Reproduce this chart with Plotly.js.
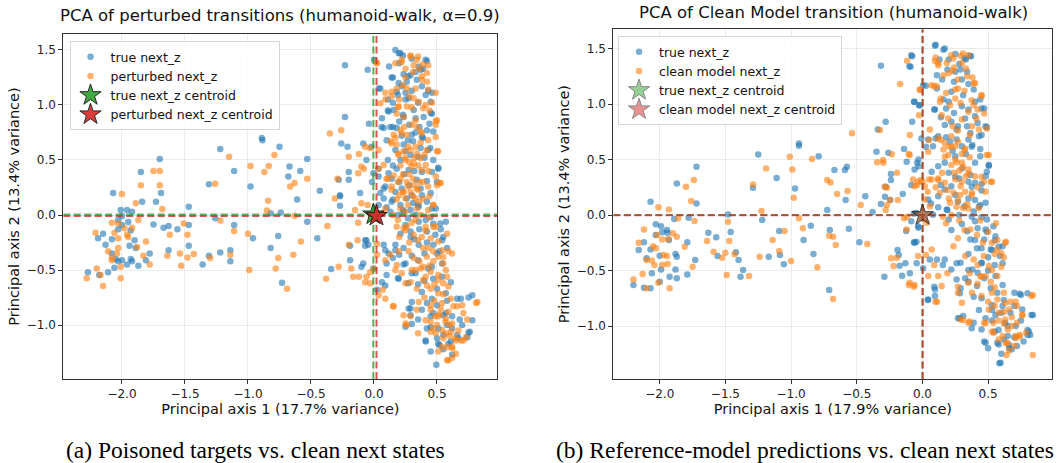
<!DOCTYPE html>
<html>
<head>
<meta charset="utf-8">
<script src="https://cdn.plot.ly/plotly-3.0.1.min.js"></script>
<style>html,body{margin:0;padding:0;background:#fff;}#chart{width:1063px;height:463px;}</style>
</head>
<body>
<div id="chart"></div>
<script>
// ---------- DATA ----------
const xTickVals = [-2.0, -1.5, -1.0, -0.5, 0.0, 0.5];
const xTickText = ["\u22122.0", "\u22121.5", "\u22121.0", "\u22120.5", "0.0", "0.5"];
const yTickVals = [-1.0, -0.5, 0.0, 0.5, 1.0, 1.5];
const yTickText = ["\u22121.0", "\u22120.5", "0.0", "0.5", "1.0", "1.5"];

// Panel (a): true next_z
const trueNextL = [
[-0.23,1.36],[-0.05,1.32],[0.0,1.41],[-0.23,0.89],[-0.04,0.83],[-0.26,0.65],[-0.21,0.62],[-0.085,0.65],[-0.02,0.62],[-0.06,0.50],[-0.20,0.39],[-0.28,0.32],[-0.20,0.32],[-0.27,0.18],[-0.27,0.17],[-0.11,0.20],[-0.27,0.085],[-0.005,0.38],[0.035,0.42],[-0.43,0.22],[-0.53,0.51],[-0.585,0.40],[-0.67,0.44],[-0.68,0.35],[-0.61,0.14],[-0.75,0.62],[-0.89,0.70],[-0.885,0.68],[-1.22,0.60],[-1.11,0.40],[-0.98,0.26],[-1.31,0.28],[-0.74,0.024],[-0.82,0.015],[-0.53,-0.06],[-0.45,-0.21],[-0.76,-0.19],[-0.82,-0.30],[-0.96,-0.21],[-1.11,-0.09],[-1.14,-0.32],[-1.14,-0.42],[-1.22,-0.34],[-1.31,-0.37],[-1.36,-0.45],[-1.47,-0.28],[-1.47,-0.09],[-1.47,0.076],[-1.26,-0.03],[-1.63,-0.10],[-1.67,-0.115],[-1.56,-0.13],[-1.63,-0.32],[-1.73,0.12],[-1.69,0.20],[-1.70,0.51],[-1.85,0.39],[-1.84,0.12],[-2.07,0.20],[-1.75,-0.085],[-1.78,-0.35],[-1.87,-0.46],[-1.81,-0.41],[-0.73,-0.615],[-0.34,-0.49],[-0.19,-0.41],[-0.19,-0.28],[-0.045,-0.27],[-0.06,-0.23],[-0.085,-0.44],[-0.10,-0.47],[-0.005,-0.485],
[-2.01,0.045],[-1.96,0.045],[-1.92,0.03],[-2.0,-0.01],[-2.03,-0.045],[-1.95,-0.064],[-2.0,-0.09],[-2.03,-0.13],[-1.93,-0.14],[-2.15,-0.17],[-2.19,-0.21],[-2.13,-0.27],[-2.08,-0.22],[-1.90,-0.23],[-1.94,-0.28],[-1.89,-0.30],[-2.08,-0.35],[-2.05,-0.40],[-2.03,-0.42],[-1.93,-0.40],[-1.92,-0.42],[-1.96,-0.45],[-2.06,-0.48],[-2.11,-0.52],[-2.18,-0.545],[-2.27,-0.52],[-2.00,-0.41],
[0.17,1.50],[0.196,1.47],[0.41,1.41],[0.355,1.35],[0.39,1.33],[0.29,1.27],[0.235,1.28],[0.26,1.21],[0.037,1.15],[0.14,1.25],[0.196,1.20],[0.34,1.23],
[0.18,1.12],[0.25,1.11],[0.41,1.09],[0.46,1.11],[0.45,1.03],[0.275,1.06],[0.116,0.94],[0.156,0.955],[0.235,0.89],[0.315,0.955],[0.394,0.89],[0.46,0.92],[0.063,0.88],[0.077,0.79],
[0.13,0.80],[0.18,0.79],[0.30,0.73],[0.42,0.77],[0.47,0.76],[0.39,0.70],[0.31,0.67],[0.37,0.61],[0.235,0.64],[0.17,0.59],[0.447,0.61],[0.51,0.43],[0.46,0.39],[0.29,0.545],[0.21,0.50],[0.275,0.41],[0.38,0.39],[0.34,0.32],[0.18,0.42],[0.116,0.38],[0.037,0.35],[0.077,0.24],[-0.016,0.30],
[0.17,0.21],[0.22,0.24],[0.26,0.15],[0.31,0.11],[0.38,0.18],[0.42,0.12],[0.21,0.09],[0.14,0.12],[0.077,0.15],[0.037,0.09],[0.29,0.045],[0.46,0.06],[0.355,0.076],[0.235,0.03],[0.13,0.03],
[0.355,-0.06],[0.526,-0.076],[0.29,-0.15],[0.42,-0.15],[0.487,-0.18],[0.55,-0.20],[0.58,-0.30],[0.47,-0.27],[0.355,-0.27],[0.235,-0.30],[0.17,-0.27],[0.077,-0.27],[0.116,-0.35],[0.235,-0.45],[0.196,-0.58],[0.33,-0.53],[0.43,-0.485],[0.61,-0.61],[0.10,-0.545],[0.063,-0.61],[0.024,-0.68],[-0.07,-0.23],[-0.07,-0.28],
[0.30,-0.79],[0.275,-0.85],[0.38,-0.86],[0.47,-0.89],[0.55,-0.91],[0.62,-1.03],[0.69,-0.76],[0.78,-0.73],[0.78,-0.955],[0.76,-1.06],[0.74,-1.11],[0.66,-1.09],[0.58,-1.0],[0.50,-1.12],[0.41,-1.14],[0.52,-1.18],[0.45,-1.02],[0.25,-1.015],[0.30,-0.99],[0.495,-1.36],[0.42,-1.03],[0.55,-1.09],[0.61,-1.15],
[0.21,1.47],[0.23,1.45],[0.42,1.40],[0.37,1.32],[0.27,1.26],[0.15,1.25],[0.05,1.15],[0.11,1.05],[0.19,1.09],[0.25,1.05],[0.43,1.13],[0.11,0.95],[0.23,0.91],[0.33,0.88],[0.45,0.93],[0.06,0.80],[0.15,0.80],[0.38,0.71],[0.27,0.68],[0.43,0.59],[0.35,0.53],[0.11,0.50],[0.51,0.42],[0.14,0.33],[0.09,0.26],[0.05,0.20],[0.30,0.18],[0.15,0.14],[0.35,0.09],[0.49,0.06],[0.23,0.045],[0.41,-0.045],[0.57,-0.06],[0.21,-0.17],[0.29,-0.20],[0.54,-0.23],[0.50,-0.35],[0.15,-0.39],[0.10,-0.44],[0.25,-0.44],[0.35,-0.41],[0.54,-0.44],[0.46,-0.47],[0.09,-0.32],[0.17,-0.32],[0.30,-0.53],[0.19,-0.575],[0.27,-0.62],[0.09,-0.64],[0.38,-0.70],[0.46,-0.76],[0.57,-0.71],[0.66,-0.76],[0.75,-0.75],[0.75,-1.07],[0.67,-1.12],[0.51,-1.17],[0.41,-1.15],[0.29,-0.91],[0.29,-0.85],[0.59,-1.17],[0.51,-1.03],[0.57,-0.89],
[0.12,1.35],[0.2,1.38],[0.3,1.42],[0.33,1.30],[0.22,1.17],[0.30,1.13],[0.38,1.17],[0.15,1.02],[0.35,1.02],[0.2,0.85],[0.28,0.82],[0.36,0.80],[0.44,0.83],[0.1,0.68],[0.22,0.72],[0.33,0.75],[0.25,0.58],[0.40,0.52],[0.47,0.50],[0.15,0.45],[0.24,0.37],[0.32,0.40],[0.42,0.31],[0.50,0.30],[0.2,0.30],[0.28,0.27],[0.37,0.24],[0.45,0.20],[0.1,0.07],[0.19,0.0],[0.27,-0.03],[0.33,0.0],[0.45,-0.02],[0.25,-0.09],[0.36,-0.13],[0.47,-0.08],[0.53,-0.13],[0.32,-0.22],[0.42,-0.25],[0.52,-0.33],[0.40,-0.35],[0.3,-0.37],[0.2,-0.36],[0.47,-0.58],[0.4,-0.60],[0.54,-0.56],[0.35,-0.63],[0.50,-0.67],[0.58,-0.78],[0.42,-0.80],[0.50,-0.82],[0.35,-0.95],[0.45,-0.92],[0.62,-0.92],[0.68,-0.95],[0.55,-1.22],[0.45,-1.24],[0.62,-1.27],[0.7,-1.0]
];

// Panel (a): perturbed next_z
const pertNextL = [
[-0.35,0.74],[-0.26,0.77],[0.02,1.385],[-0.12,0.555],[-0.20,0.53],[-0.10,0.44],[-0.08,0.42],[-0.125,0.38],[-0.29,0.33],[-0.31,0.15],[-0.10,0.106],[-0.15,0.045],[-0.125,-0.07],[-0.37,-0.10],[-0.13,-0.23],[-0.20,-0.27],[-0.28,-0.47],[-0.18,-0.485],[-0.165,-0.56],[-0.12,-0.56],[-0.06,-0.56],[-0.38,-0.58],[-0.03,-0.62],[-0.53,0.33],[-0.63,0.29],[-0.665,0.26],[-0.79,0.545],[-0.835,0.445],[-0.87,0.39],[-0.98,0.445],[-1.15,0.53],[-1.26,0.285],[-0.84,0.13],[-0.85,0.04],[-0.63,-0.01],[-0.58,-0.24],[-0.64,-0.36],[-0.76,-0.39],[-0.78,-0.485],[-0.69,-0.67],[-0.99,-0.50],[-1.00,-0.17],[-1.11,-0.145],[-1.14,-0.36],[-1.22,-0.05],[-1.30,-0.39],[-1.43,-0.355],[-1.48,-0.385],[-1.48,-0.18],[-1.51,-0.076],[-1.54,-0.35],[-1.53,-0.46],[-1.62,-0.18],[-1.64,-0.37],[-1.70,0.40],[-1.75,0.40],[-1.70,0.27],[-1.68,0.055],[-1.85,0.27],[-1.89,0.106],[-1.87,-0.045],[-2.0,0.19],[-1.81,-0.24],[-1.88,-0.29],[-1.78,-0.45],[-1.83,-0.37],
[-2.21,-0.16],[-2.08,-0.07],[-2.06,-0.16],[-2.03,-0.30],[-1.98,-0.12],[-1.96,-0.18],[-1.95,-0.20],[-2.08,-0.39],[-2.11,-0.33],[-2.01,-0.47],[-2.04,-0.35],[-2.20,-0.485],[-2.17,-0.545],[-2.15,-0.645],[-2.28,-0.575],[-2.01,-0.575],[-2.08,-0.41],[-2.03,-0.21],[-1.92,-0.115],[-2.03,-0.076],
[0.29,1.45],[0.34,1.41],[0.22,1.41],[0.39,1.37],[0.315,1.36],[0.25,1.33],[0.42,1.29],[0.38,1.26],[0.024,1.38],[0.17,1.38],[0.09,1.11],[0.14,1.08],[0.18,1.15],[0.26,1.15],[0.33,1.15],[0.43,1.14],[0.315,1.06],[0.355,1.03],[0.196,0.985],[0.26,0.985],[0.41,1.0],[0.49,0.855],[0.49,0.82],[0.05,1.015],[0.18,0.92],[0.235,0.89],[0.33,0.86],[0.34,0.80],[0.21,0.77],[0.156,0.73],[0.26,0.73],[0.38,0.74],[0.13,0.67],[0.18,0.64],[0.235,0.58],[0.29,0.59],[0.34,0.56],[0.42,0.59],[0.50,0.58],[0.196,0.545],[0.25,0.50],[0.315,0.47],[0.37,0.515],[0.41,0.455],[0.037,0.59],[-0.03,0.61],[-0.07,0.62],[0.077,0.455],[0.037,0.42],[0.10,0.33],[0.156,0.36],[0.21,0.33],[0.26,0.30],[0.315,0.27],[0.39,0.30],[0.50,0.27],[0.53,0.29],[0.14,0.26],[0.235,0.21],[0.29,0.21],[0.34,0.24],[0.39,0.15],[0.18,0.14],[0.09,0.06],[0.21,0.06],[0.47,0.09],[0.43,0.045],[0.34,0.06],[-0.05,0.09],[0.18,-0.106],[0.235,-0.12],[0.26,-0.106],[0.41,-0.106],[0.47,-0.106],[0.315,-0.18],[0.38,-0.20],[0.45,-0.21],[0.51,-0.24],[0.59,-0.33],[0.54,-0.32],[0.39,-0.30],[0.275,-0.33],[0.196,-0.33],[0.13,-0.36],[0.09,-0.41],[0.18,-0.455],[0.315,-0.39],[0.42,-0.38],[0.47,-0.42],[0.55,-0.44],[0.37,-0.485],[0.45,-0.515],[0.51,-0.545],[0.55,-0.62],[0.39,-0.59],[0.29,-0.61],[0.25,-0.62],[0.34,-0.67],[0.45,-0.67],[0.51,-0.71],[0.61,-0.76],[0.66,-0.83],[0.82,-0.79],[0.156,-0.83],[0.037,-0.73],[0.0,-0.485],[-0.07,-0.61],[-0.03,-0.52],[0.024,-0.36],[0.024,-0.26],[0.355,-0.79],[0.45,-0.82],[0.53,-0.85],[0.59,-0.88],[0.487,-0.92],[0.567,-0.97],[0.45,-0.97],[0.47,-1.03],[0.54,-1.045],[0.61,-1.06],[0.645,-1.12],[0.71,-1.14],[0.58,-1.20],[0.62,-1.21],[0.58,-1.32],[0.235,-0.91],[0.26,-1.0],[0.45,-1.06],[0.29,-0.92],
[0.29,1.44],[0.35,1.44],[0.43,1.36],[0.22,1.39],[0.38,1.23],[0.42,1.21],[0.23,1.18],[0.14,1.12],[0.49,1.11],[0.09,1.05],[0.19,0.98],[0.30,0.98],[0.39,0.97],[0.46,1.02],[0.50,0.86],[0.49,0.71],[0.37,0.76],[0.22,0.74],[0.14,0.65],[0.33,0.62],[0.51,0.58],[0.19,0.56],[0.25,0.52],[0.30,0.44],[0.38,0.41],[0.49,0.35],[0.52,0.29],[0.11,0.33],[0.19,0.30],[0.27,0.26],[0.35,0.23],[0.43,0.26],[0.14,0.23],[0.23,0.21],[0.33,0.15],[0.47,0.09],[0.07,0.015],[0.19,-0.045],[0.33,-0.045],[0.25,-0.14],[0.41,-0.14],[0.49,-0.106],[0.58,-0.17],[0.62,-0.35],[0.51,-0.38],[0.39,-0.47],[0.33,-0.50],[0.57,-0.50],[0.17,-0.50],[0.22,-0.53],[0.41,-0.56],[0.51,-0.59],[0.59,-0.65],[0.15,-0.83],[0.34,-0.86],[0.45,-0.86],[0.54,-0.80],[0.63,-0.83],[0.71,-0.89],[0.81,-0.80],[0.41,-0.955],[0.51,-0.92],[0.62,-0.985],[0.57,-1.075],[0.65,-1.14],[0.69,-1.14],[0.73,-1.11],[0.54,-1.20],[0.62,-1.20],[0.65,-1.26],[0.59,-1.32],[0.49,-1.075],[0.35,-1.075],[0.25,-0.985],[0.09,-0.76],[0.07,-0.68],
[0.25,1.25],[0.31,1.30],[0.36,1.33],[0.20,1.05],[0.28,1.08],[0.44,0.95],[0.24,0.80],[0.30,0.82],[0.43,0.68],[0.17,0.70],[0.27,0.62],[0.37,0.66],[0.21,0.45],[0.28,0.48],[0.35,0.45],[0.43,0.40],[0.23,0.37],[0.31,0.33],[0.36,0.30],[0.28,0.37],[0.32,0.52],[0.40,0.55],[0.20,0.18],[0.25,0.15],[0.31,0.17],[0.36,0.12],[0.44,0.17],[0.27,0.09],[0.15,0.0],[0.25,0.03],[0.37,0.0],[0.44,-0.02],[0.30,-0.07],[0.20,-0.2],[0.28,-0.25],[0.35,-0.23],[0.43,-0.30],[0.47,-0.33],[0.55,-0.38],[0.36,-0.42],[0.44,-0.46],[0.30,-0.50],[0.48,-0.63],[0.42,-0.64],[0.58,-0.56],[0.55,-0.72],[0.40,-0.75],[0.48,-0.78],[0.52,-0.90],[0.57,-0.94],[0.60,-1.0],[0.50,-1.0],[0.55,-1.12],[0.60,-1.10],[0.67,-1.05],[0.51,-1.24],[0.62,-1.30],[0.74,-0.95],[0.7,-0.82]
];

// Panel (b): true next_z
const trueNextR = [
[-0.316,1.345],[-0.09,1.335],[-0.078,1.43],[-0.28,0.84],[-0.34,0.77],[-0.065,1.02],[-0.026,0.99],[-0.078,0.84],[-0.14,0.595],[-0.35,0.57],[-0.26,0.56],[-0.12,0.48],[-0.04,0.47],[-0.24,0.37],[-0.24,0.315],[-0.28,0.255],[-0.285,0.165],[-0.316,0.10],[-0.15,0.19],[-0.246,0.135],[-0.38,0.027],[-0.435,0.17],[-0.065,0.015],[-0.03,-0.114],[-0.124,-0.144],[-0.065,-0.246],[-0.19,-0.315],[-0.18,-0.36],[-0.13,-0.435],[-0.174,-0.456],[-0.044,-0.435],[-0.096,-0.525],[-0.155,-0.547],[-0.29,-0.556],[-0.48,-0.246],[-0.56,-0.123],[-0.585,0.135],[-0.59,0.405],[-0.575,0.435],[-0.67,0.405],[-0.725,0.045],[-0.705,-0.135],[-0.71,-0.675],[-0.79,0.53],[-0.94,0.645],[-0.94,0.625],[-0.97,0.24],[-1.11,0.333],[-1.25,0.545],[-1.29,0.246],[-1.22,-0.045],[-1.09,-0.144],[-1.085,-0.36],[-1.055,-0.444],[-1.17,-0.375],[-0.905,-0.225],[-0.85,-0.096],[-0.83,-0.35],[-1.48,0.006],[-1.46,-0.153],[-1.57,-0.20],[-1.63,-0.16],[-1.56,-0.37],[-1.42,-0.336],[-1.40,-0.405],[-1.365,-0.495],[-1.385,-0.556],[-1.72,0.435],[-1.72,0.105],[-1.78,-0.024],[-1.87,0.285],[-2.07,0.12],[-1.79,-0.246],[-1.73,-0.405],[-1.79,-0.535],
[-2.03,-0.084],[-1.99,-0.10],[-1.945,-0.135],[-1.89,-0.036],[-1.98,-0.156],[-2.03,-0.18],[-1.94,-0.16],[-1.93,-0.225],[-2.12,-0.246],[-2.16,-0.315],[-2.07,-0.31],[-2.0,-0.366],[-1.88,-0.35],[-1.87,-0.375],[-2.10,-0.39],[-2.06,-0.525],[-1.99,-0.49],[-1.925,-0.556],[-1.88,-0.49],[-2.20,-0.63],[-2.12,-0.655],[-2.07,-0.66],[-2.0,-0.60],[-1.87,-0.57],
[0.10,1.535],[0.17,1.50],[0.36,1.435],[0.25,1.45],[0.33,1.40],[0.29,1.31],[0.25,1.29],[0.34,1.29],[0.11,1.26],[0.005,1.17],[-0.02,0.99],[-0.06,1.02],[-0.085,1.44],[-0.10,1.34],[0.11,1.14],[0.22,1.11],[0.31,1.08],[0.39,1.13],[0.44,1.04],[0.47,0.96],[0.16,1.04],[0.095,0.95],[0.24,0.92],[0.325,0.87],[0.40,0.89],[0.48,0.80],[0.17,0.81],[0.26,0.77],[0.365,0.74],[0.43,0.71],[0.12,0.71],[0.044,0.68],[-0.008,0.69],[0.08,0.62],[0.21,0.66],[0.30,0.62],[0.38,0.63],[0.505,0.45],[0.48,0.35],[0.44,0.53],[0.25,0.53],[0.17,0.47],[0.12,0.44],[0.07,0.39],[-0.03,0.44],[-0.06,0.41],[-0.03,0.50],[0.30,0.42],[0.365,0.36],[0.40,0.29],[0.22,0.26],[0.17,0.23],[0.12,0.17],[0.044,0.14],[-0.085,0.27],[0.27,0.12],[0.35,0.15],[0.44,0.09],[0.48,0.11],[0.185,0.05],[0.39,0.033],[0.08,0.003],[-0.046,0.018],[-0.085,-0.057],[-0.033,-0.10],[0.20,-0.04],[0.40,-0.057],[0.49,-0.04],[0.54,-0.10],[0.556,-0.19],[0.48,-0.13],[0.34,-0.147],[0.365,-0.22],[0.415,-0.30],[0.52,-0.31],[0.61,-0.28],[0.59,-0.37],[0.45,-0.43],[0.38,-0.49],[0.29,-0.43],[0.22,-0.49],[0.17,-0.40],[0.11,-0.40],[0.056,-0.40],[0.005,-0.48],[-0.046,-0.24],[-0.06,-0.25],[0.26,-0.58],[0.325,-0.57],[0.47,-0.57],[0.556,-0.55],[0.61,-0.63],[0.415,-0.64],[0.29,-0.66],[0.095,-0.67],[0.095,-0.73],[0.044,-0.76],[0.27,-0.93],[0.31,-0.91],[0.48,-0.93],[0.556,-0.90],[0.61,-0.82],[0.70,-0.70],[0.75,-0.72],[0.84,-0.90],[0.81,-1.05],[0.80,-1.08],[0.63,-0.97],[0.65,-1.09],[0.66,-1.17],[0.68,-1.21],[0.595,-1.33],[0.57,-1.15],[0.48,-1.15],[0.45,-1.03],[0.39,-0.97],[0.77,-1.14],[0.71,-1.0],[0.53,-0.81],[0.70,-0.82],[0.76,-0.85],
[0.096,1.525],[0.16,1.49],[0.37,1.43],[0.32,1.41],[0.19,1.31],[0.30,1.22],[0.026,1.165],[0.09,0.95],[0.18,0.96],[0.35,0.95],[0.45,0.96],[0.49,0.79],[0.45,0.72],[0.27,0.80],[0.10,0.69],[0.026,0.615],[0.375,0.615],[0.44,0.595],[0.505,0.445],[0.49,0.39],[0.45,0.28],[0.375,0.255],[0.25,0.345],[0.14,0.27],[0.065,0.105],[0.19,0.045],[0.40,0.135],[0.43,0.075],[0.375,-0.015],[0.22,-0.135],[0.49,-0.15],[0.40,-0.225],[0.53,-0.315],[0.58,-0.285],[0.61,-0.435],[0.45,-0.435],[0.35,-0.495],[0.26,-0.435],[0.155,-0.45],[0.09,-0.645],[0.04,-0.765],[0.285,-0.705],[0.39,-0.735],[0.43,-0.855],[0.285,-0.93],[0.375,-1.02],[0.47,-1.14],[0.58,-1.165],[0.66,-1.20],[0.585,-1.335],[0.80,-1.035],[0.82,-1.08],[0.83,-0.90],[0.74,-0.71],[0.80,-0.705],[0.62,-0.765],[0.53,-0.855],[0.58,-1.035],
[0.13,1.40],[0.2,1.40],[0.28,1.36],[0.15,1.22],[0.24,1.20],[0.35,1.18],[0.2,1.02],[0.3,0.98],[0.4,1.02],[0.14,0.88],[0.22,0.84],[0.34,0.80],[0.42,0.83],[0.18,0.70],[0.26,0.68],[0.35,0.68],[0.23,0.58],[0.33,0.55],[0.4,0.47],[0.2,0.38],[0.28,0.33],[0.35,0.30],[0.45,0.22],[0.25,0.18],[0.32,0.08],[0.12,0.07],[0.28,0.0],[0.45,-0.02],[0.3,-0.08],[0.42,-0.12],[0.47,-0.22],[0.55,-0.23],[0.45,-0.30],[0.35,-0.35],[0.5,-0.38],[0.55,-0.45],[0.42,-0.52],[0.50,-0.50],[0.35,-0.60],[0.52,-0.66],[0.45,-0.75],[0.57,-0.70],[0.6,-0.88],[0.53,-0.95],[0.65,-1.0],[0.7,-1.1],[0.62,-1.12],[0.55,-1.05],[0.75,-0.95],[0.67,-0.88],[0.5,-1.2],[0.6,-1.25],[0.72,-1.18]
];

// Panel (b): clean model next_z
const cleanNextR = [
[-0.117,1.39],[-0.17,1.18],[-0.018,1.126],[-0.026,0.90],[-0.324,0.766],[-0.536,0.736],[-0.096,0.72],[-0.233,0.547],[-0.104,0.55],[-0.30,0.495],[-0.345,0.475],[-0.298,0.47],[-0.194,0.38],[-0.288,0.255],[-0.27,0.246],[-0.246,0.135],[-0.187,0.135],[-0.27,0.09],[-0.47,0.09],[-0.28,0.045],[-0.117,-0.015],[-0.14,-0.03],[-0.238,-0.39],[-0.194,-0.385],[-0.22,-0.46],[-0.104,-0.63],[-0.065,-0.645],[-0.42,-0.26],[-0.57,0.216],[-0.65,0.19],[-0.725,0.315],[-0.70,0.294],[-0.71,-0.186],[-0.68,-0.195],[-0.66,-0.27],[-0.68,-0.757],[-0.80,-0.47],[-0.84,0.505],[-0.99,0.41],[-1.01,0.525],[-0.98,0.156],[-0.94,-0.03],[-0.91,-0.12],[-1.05,-0.144],[-1.09,-0.324],[-1.00,-0.414],[-1.14,-0.225],[-1.24,-0.375],[-1.19,0.42],[-1.225,0.036],[-1.29,0.276],[-1.32,-0.55],[-1.43,-0.354],[-1.47,-0.234],[-1.48,-0.06],[-1.50,-0.34],[-1.525,-0.384],[-1.49,-0.54],[-1.59,-0.33],[-1.64,-0.234],[-1.74,0.315],[-1.76,0.126],[-1.735,-0.054],[-1.80,0.255],[-1.75,-0.465],[-1.81,-0.285],[-1.93,0.05],[-2.01,0.07],
[-2.12,-0.13],[-2.16,-0.25],[-2.02,-0.18],[-1.98,-0.22],[-1.935,-0.216],[-1.86,-0.03],[-1.87,-0.195],[-2.05,-0.28],[-2.03,-0.30],[-1.97,-0.36],[-1.945,-0.37],[-2.10,-0.405],[-2.04,-0.45],[-1.98,-0.45],[-1.94,-0.44],[-2.13,-0.53],[-2.20,-0.58],[-2.01,-0.61],[-1.925,-0.66],[-2.10,-0.66],[-2.06,-0.41],[-1.90,-0.165],
[0.095,1.39],[0.12,1.35],[0.185,1.37],[0.236,1.41],[0.29,1.435],[0.30,1.37],[0.20,1.28],[0.27,1.22],[0.34,1.25],[-0.02,1.13],[0.07,1.17],[0.11,1.16],[0.25,1.13],[0.40,1.19],[0.45,1.08],[0.133,1.02],[0.21,0.99],[0.29,1.01],[0.39,0.99],[0.35,0.93],[0.146,0.90],[0.197,0.87],[0.30,0.86],[0.377,0.80],[0.43,0.77],[0.49,0.78],[0.056,0.77],[0.12,0.69],[0.17,0.65],[0.22,0.71],[0.27,0.66],[0.325,0.60],[0.16,0.59],[0.197,0.54],[0.25,0.50],[0.30,0.47],[0.35,0.41],[0.40,0.35],[0.467,0.30],[0.505,0.54],[0.53,0.30],[0.07,0.32],[0.12,0.33],[0.17,0.29],[0.25,0.32],[0.29,0.26],[0.325,0.21],[0.377,0.20],[0.236,0.20],[0.133,0.20],[0.018,0.26],[-0.033,0.30],[-0.072,0.32],[-0.097,0.54],[0.044,0.57],[-0.06,0.26],[0.018,0.14],[0.056,0.08],[0.21,0.11],[0.31,0.063],[0.43,0.063],[-0.12,-0.13],[0.03,-0.07],[0.07,-0.31],[0.044,-0.55],[-0.06,-0.63],[-0.097,-0.61],[-0.033,-0.37],[0.12,-0.55],[0.146,-0.64],[0.236,-0.28],[0.27,-0.21],[0.365,-0.13],[0.415,-0.18],[0.325,-0.37],[0.39,-0.40],[0.467,-0.37],[0.53,-0.25],[0.57,-0.31],[0.63,-0.25],[0.505,-0.46],[0.44,-0.55],[0.52,-0.60],[0.35,-0.61],[0.27,-0.70],[0.11,-0.78],[0.377,-0.70],[0.45,-0.73],[0.53,-0.70],[0.57,-0.76],[0.63,-0.79],[0.71,-0.78],[0.84,-0.72],[0.505,-0.85],[0.58,-0.88],[0.66,-0.85],[0.72,-0.82],[0.76,-0.90],[0.48,-0.97],[0.54,-0.97],[0.63,-0.94],[0.68,-1.0],[0.54,-1.06],[0.61,-1.09],[0.71,-1.09],[0.74,-1.08],[0.79,-1.06],[0.646,-1.15],[0.84,-1.26],[0.29,-0.94],[0.35,-0.97],[0.30,-0.79],
[0.31,1.455],[0.35,1.44],[0.22,1.44],[0.10,1.42],[0.12,1.37],[0.23,1.30],[0.38,1.24],[0.39,1.185],[0.27,1.14],[0.09,1.16],[0.14,1.05],[0.375,1.035],[0.45,1.075],[0.47,0.915],[0.41,0.87],[0.05,0.675],[0.14,0.675],[0.22,0.615],[0.32,0.585],[0.49,0.54],[0.17,0.525],[0.26,0.475],[0.31,0.435],[0.35,0.375],[0.45,0.345],[0.52,0.30],[0.48,0.21],[0.12,0.315],[0.19,0.225],[0.285,0.18],[0.375,0.18],[-0.013,0.315],[-0.04,0.27],[0.04,0.21],[0.26,0.075],[0.35,0.06],[0.155,-0.015],[0.18,-0.075],[0.32,-0.135],[0.56,-0.075],[0.57,-0.225],[0.635,-0.24],[0.60,-0.345],[0.53,-0.495],[0.60,-0.465],[0.45,-0.555],[0.36,-0.525],[0.27,-0.645],[0.19,-0.525],[0.09,-0.45],[0.026,-0.36],[0.10,-0.78],[0.31,-0.945],[0.36,-0.96],[0.47,-0.975],[0.53,-1.05],[0.635,-1.155],[0.71,-1.11],[0.74,-1.095],[0.64,-1.26],[0.76,-0.90],[0.83,-0.73],[0.67,-0.78],
[0.16,1.26],[0.24,1.33],[0.33,1.32],[0.18,1.10],[0.32,1.12],[0.25,1.05],[0.42,0.95],[0.23,0.80],[0.27,0.76],[0.36,0.72],[0.20,0.62],[0.25,0.62],[0.30,0.55],[0.36,0.52],[0.22,0.45],[0.28,0.40],[0.33,0.35],[0.24,0.38],[0.30,0.30],[0.42,0.25],[0.2,0.15],[0.27,0.13],[0.34,0.10],[0.1,0.25],[0.05,0.32],[0.15,0.38],[0.0,0.30],[0.22,0.0],[0.28,-0.05],[0.44,-0.05],[0.5,-0.15],[0.46,-0.25],[0.55,-0.35],[0.62,-0.38],[0.42,-0.45],[0.48,-0.55],[0.57,-0.55],[0.42,-0.62],[0.55,-0.65],[0.62,-0.70],[0.50,-0.78],[0.55,-0.82],[0.62,-0.87],[0.68,-0.92],[0.58,-0.95],[0.65,-1.03],[0.72,-0.97],[0.58,-1.12],[0.70,-1.18],[0.66,-1.22],[0.62,-0.98]
];

// centroids [x, y]
const centroidTrueL = [-0.005, 0.005];
const centroidPertL = [0.02, -0.008];
const centroidTrueR = [0.0, 0.0];
const centroidCleanR = [0.002, -0.002];

// axis ranges
const xRangeL = [-2.466, 0.98];
const yRangeL = [-1.49, 1.645];
const xRangeR = [-2.353, 0.989];
const yRangeR = [-1.477, 1.673];

// text
const titleL = "PCA of perturbed transitions (humanoid-walk, \u03b1=0.9)";
const titleR = "PCA of Clean Model transition (humanoid-walk)";
const xTitleL = "Principal axis 1 (17.7% variance)";
const xTitleR = "Principal axis 1 (17.9% variance)";
const yTitle = "Principal axis 2 (13.4% variance)";
const captionL = "(a) Poisoned targets vs. clean next states";
const captionR = "(b) Reference-model predictions vs. clean next states";
const namesL = ["true next_z", "perturbed next_z", "true next_z centroid", "perturbed next_z centroid"];
const namesR = ["true next_z", "clean model next_z", "true next_z centroid", "clean model next_z centroid"];

// ---------- BUILD ----------
const BLUE = "#1f77b4", ORANGE = "#ff7f0e";
const FONT = "DejaVu Sans, Verdana, sans-serif";

function pts(arr, name, color, xa, ya, leg) {
  return {type: "scatter", mode: "markers", x: arr.map(p => p[0]), y: arr.map(p => p[1]),
    name: name, xaxis: xa, yaxis: ya, legend: leg, cliponaxis: true,
    marker: {color: color, size: 6.5, opacity: 0.6, line: {width: 0}}, hoverinfo: "skip"};
}
function cross(c, xr, yr, color, xa, ya) {
  return {type: "scatter", mode: "lines", x: [c[0], c[0], null, xr[0], xr[1]],
    y: [yr[0], yr[1], null, c[1], c[1]], xaxis: xa, yaxis: ya, showlegend: false,
    line: {color: color, width: 2, dash: "7px,3.5px"}, hoverinfo: "skip", connectgaps: false};
}
function star(c, name, color, op, xa, ya, leg) {
  return {type: "scatter", mode: "markers", x: [c[0]], y: [c[1]], name: name, xaxis: xa, yaxis: ya, legend: leg,
    marker: {symbol: "star", size: 16, color: color, opacity: op, line: {color: "#111", width: 1}}, hoverinfo: "skip"};
}

const traces = [
  pts(trueNextL, namesL[0], BLUE, "x", "y", "legend"),
  pts(pertNextL, namesL[1], ORANGE, "x", "y", "legend"),
  cross(centroidTrueL, xRangeL, yRangeL, "rgba(44,160,44,0.8)", "x", "y"),
  cross(centroidPertL, xRangeL, yRangeL, "rgba(214,39,40,0.8)", "x", "y"),
  star(centroidTrueL, namesL[2], "#2ca02c", 0.9, "x", "y", "legend"),
  star(centroidPertL, namesL[3], "#d62728", 0.9, "x", "y", "legend"),
  pts(trueNextR, namesR[0], BLUE, "x2", "y2", "legend2"),
  pts(cleanNextR, namesR[1], ORANGE, "x2", "y2", "legend2"),
  cross(centroidTrueR, xRangeR, yRangeR, "rgba(44,160,44,0.75)", "x2", "y2"),
  cross(centroidCleanR, xRangeR, yRangeR, "rgba(214,39,40,0.75)", "x2", "y2"),
  star(centroidTrueR, namesR[2], "#2ca02c", 0.5, "x2", "y2", "legend2"),
  star(centroidCleanR, namesR[3], "#d62728", 0.5, "x2", "y2", "legend2")
];

function xax(domain, range, title, anchor) {
  return {domain: domain, range: range, anchor: anchor, tickvals: xTickVals, ticktext: xTickText,
    showgrid: true, gridcolor: "#ebebeb", gridwidth: 1, zeroline: false,
    showline: true, mirror: true, linecolor: "#333", linewidth: 1,
    ticks: "outside", ticklen: 4, tickcolor: "#333", tickfont: {family: FONT, size: 12, color: "#222"},
    title: {text: title, font: {family: FONT, size: 14.5, color: "#111"}, standoff: 3}};
}
function yax(domain, range, anchor) {
  return {domain: domain, range: range, anchor: anchor, tickvals: yTickVals, ticktext: yTickText,
    showgrid: true, gridcolor: "#ebebeb", gridwidth: 1, zeroline: false,
    showline: true, mirror: true, linecolor: "#333", linewidth: 1,
    ticks: "outside", ticklen: 4, tickcolor: "#333", tickfont: {family: FONT, size: 12, color: "#222"},
    title: {text: yTitle, font: {family: FONT, size: 14.5, color: "#111"}, standoff: 3}};
}
const legendStyle = (x, y) => ({x: x, y: y, xanchor: "left", yanchor: "top", xref: "paper", yref: "paper",
  bgcolor: "rgba(255,255,255,0.85)", bordercolor: "#d6d6d6", borderwidth: 1,
  font: {family: FONT, size: 12.5, color: "#111"}, itemsizing: "trace"});

const layout = {
  width: 1063, height: 463, margin: {l: 0, r: 0, t: 0, b: 0},
  paper_bgcolor: "#fff", plot_bgcolor: "#fff", showlegend: true,
  font: {family: FONT, color: "#111"},
  xaxis: xax([0.0595, 0.468], xRangeL, xTitleL, "y"),
  yaxis: yax([0.1814, 0.9266], yRangeL, "x"),
  xaxis2: xax([0.577, 0.990], xRangeR, xTitleR, "y2"),
  yaxis2: yax([0.1814, 0.9367], yRangeR, "x2"),
  legend: legendStyle(0.0654, 0.9114),
  legend2: legendStyle(0.5814, 0.9222),
  annotations: [
    {text: titleL, xref: "paper", yref: "paper", x: 280.4/1063, y: 1 - 16/463, xanchor: "center", yanchor: "middle", showarrow: false, font: {family: FONT, size: 16.5, color: "#111"}},
    {text: titleR, xref: "paper", yref: "paper", x: 833/1063, y: 1 - 12/463, xanchor: "center", yanchor: "middle", showarrow: false, font: {family: FONT, size: 16.5, color: "#111"}},
    {text: captionL, xref: "paper", yref: "paper", x: 255.5/1063, y: 1 - 450/463, xanchor: "center", yanchor: "middle", showarrow: false, font: {family: "Liberation Serif, Times New Roman, serif", size: 23.5, color: "#000"}},
    {text: captionR, xref: "paper", yref: "paper", x: 804.5/1063, y: 1 - 450/463, xanchor: "center", yanchor: "middle", showarrow: false, font: {family: "Liberation Serif, Times New Roman, serif", size: 23.5, color: "#000"}}
  ]
};

Plotly.newPlot("chart", traces, layout, {staticPlot: true, displayModeBar: false});
</script>
</body>
</html>
